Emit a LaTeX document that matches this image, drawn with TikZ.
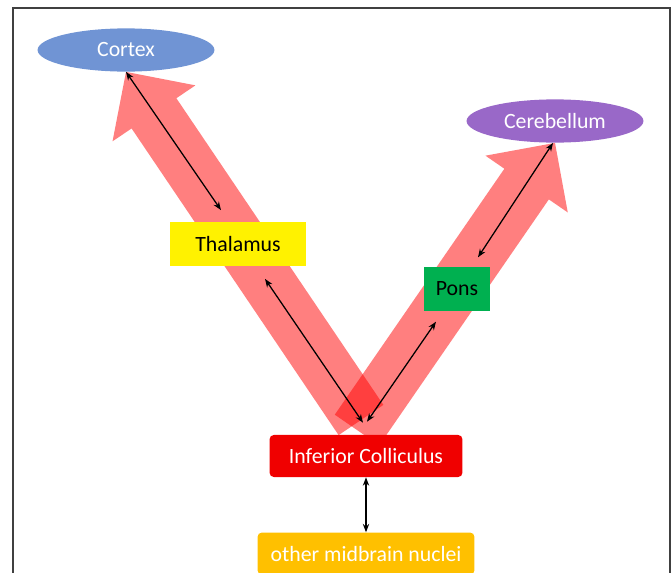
\documentclass[tikz,border=0pt]{standalone}
\usepackage{fontspec}
\setmainfont{Carlito}
\usetikzlibrary{arrows.meta,positioning,calc,shapes.geometric,backgrounds}

\definecolor{cortexblue}{RGB}{112,148,212}
\definecolor{cerebpurple}{RGB}{153,104,200}
\definecolor{ponsgreen}{RGB}{0,176,80}
\definecolor{icred}{RGB}{240,0,0}
\definecolor{midgold}{RGB}{255,192,0}

% wide pale arrow from #1 (tail) to #2 (tip)
\newcommand{\fatarrow}[2]{%
  \coordinate (neck) at ($(#2)!1.25cm!(#1)$);
  \fill[flow] ($(#1)!0.675cm!90:(#2)$) -- ($(neck)!0.675cm!90:(#2)$)
    -- ($(neck)!1.25cm!90:(#2)$) -- (#2) -- ($(neck)!1.25cm!-90:(#2)$)
    -- ($(neck)!0.675cm!-90:(#2)$) -- ($(#1)!0.675cm!-90:(#2)$) -- cycle;
}

\begin{document}
\begin{tikzpicture}[x=0.025cm, y=-0.025cm,
  every node/.style={font=\fontsize{15.5}{18}\selectfont, inner sep=0pt},
  blob/.style={ellipse, text=white, minimum width=4.42cm, minimum height=1.08cm},
  box/.style={rectangle, minimum height=1.08cm},
  rbox/.style={rectangle, rounded corners=3pt, text=white, minimum height=1.05cm},
  flow/.style={red, fill opacity=0.5},
  link/.style={<->, >={Stealth[length=6pt, width=4.5pt]}, line width=0.9pt}]
  \useasboundingbox (0,0) rectangle (672,573);
  \draw[black!75, line width=1.3pt] (13,573) |- (670,8) -- (670,573);

  % Nodes
  \node[blob, fill=cortexblue] (cortex) at (126,50) {Cortex};
  \node[blob, fill=cerebpurple] (cerebellum) at (555,121) {Cerebellum};
  \node[box, fill=yellow, minimum width=3.4cm] (thalamus) at (238,244) {Thalamus};
  \node[box, fill=ponsgreen, minimum width=1.65cm, minimum height=1.12cm] (pons) at (457,289) {Pons};
  \node[rbox, fill=icred, minimum width=4.82cm] (ic) at (366,456) {Inferior Colliculus};
  \node[rbox, fill=midgold, minimum width=5.42cm, below=1.375cm of ic] (other) {other midbrain nuclei};

  % Pathways
  \coordinate (ltail) at (361,420);
  \coordinate (rtail) at (357,430);
  \begin{scope}[on background layer]
    \fatarrow{ltail}{cortex.south}
    \fatarrow{rtail}{cerebellum.south}
  \end{scope}

  % Edges
  \draw[link] (cortex.south) -- ($(thalamus.north)+(-17,-12)$);
  \draw[link] ($(thalamus.south)+(27,13)$) -- ($(ic.north)+(-3,-12)$);
  \draw[link] ($(ic.north)+(1,-13)$) -- ($(pons.south)+(-21,10)$);
  \draw[link] ($(pons.north)+(21,-9)$) -- ($(cerebellum.south)+(-2,0)$);
  \draw[link] (ic.south) -- (other.north);
\end{tikzpicture}
\end{document}
